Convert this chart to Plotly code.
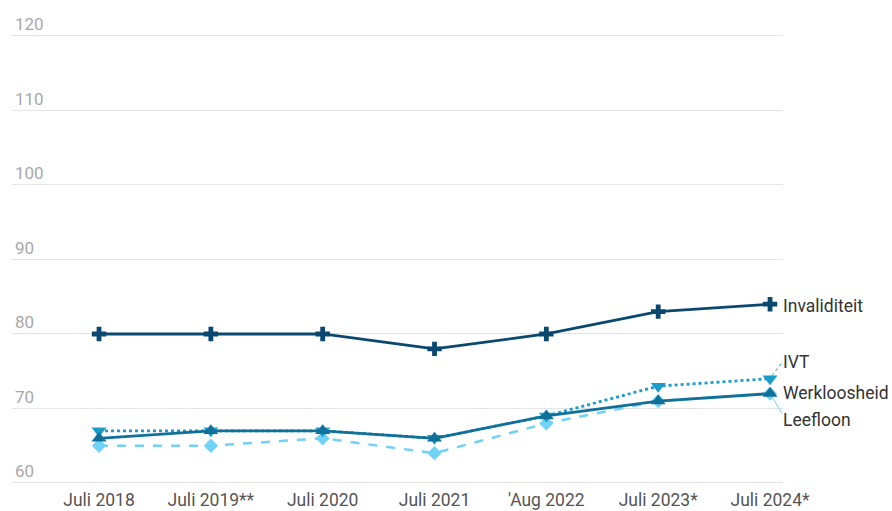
import plotly.graph_objects as go

categories = ["Juli 2018", "Juli 2019**", "Juli 2020", "Juli 2021", "'Aug 2022", "Juli 2023*", "Juli 2024*"]
invaliditeit = [80, 80, 80, 78, 80, 83, 84]
ivt = [67, 67, 67, 66, 69, 73, 74]
werkloosheid = [66, 67, 67, 66, 69, 71, 72]
leefloon = [65, 65, 66, 64, 68, 71, 72]
y_ticks = [60, 70, 80, 90, 100, 110, 120]

x = list(range(len(categories)))

C_INV = "#0b4870"
C_IVT = "#1c9cc9"
C_WERK = "#11709a"
C_LEEF = "#6fd2f6"

fig = go.Figure()
fig.add_trace(go.Scatter(x=x, y=leefloon, mode="lines+markers", name="Leefloon",
                         line=dict(color=C_LEEF, width=2.5, dash="dash"),
                         marker=dict(symbol="diamond", size=11, color=C_LEEF)))
fig.add_trace(go.Scatter(x=x, y=ivt, mode="lines+markers", name="IVT",
                         line=dict(color=C_IVT, width=2.8, dash="dot"),
                         marker=dict(symbol="triangle-down", size=13, color=C_IVT)))
fig.add_trace(go.Scatter(x=x, y=werkloosheid, mode="lines+markers", name="Werkloosheid",
                         line=dict(color=C_WERK, width=2.8),
                         marker=dict(symbol="triangle-up", size=13, color=C_WERK)))
fig.add_trace(go.Scatter(x=x, y=invaliditeit, mode="lines+markers", name="Invaliditeit",
                         line=dict(color=C_INV, width=2.8),
                         marker=dict(symbol="cross", size=12, color=C_INV)))

last = len(categories) - 1
labels = [("Invaliditeit", invaliditeit[-1], -2),
          ("IVT", ivt[-1], 17),
          ("Werkloosheid", werkloosheid[-1], 1),
          ("Leefloon", leefloon[-1], -26)]
for text, yv, ys in labels:
    fig.add_annotation(x=last, y=yv, xref="x", yref="y", text=text, showarrow=False,
                       xanchor="left", yanchor="middle", xshift=11, yshift=ys,
                       font=dict(family="Roboto", size=17.5, color="#333333"))

# connector lines for IVT and Leefloon labels
fig.add_shape(type="line", xref="x", yref="y", xsizemode="pixel", ysizemode="pixel",
              xanchor=last, yanchor=ivt[-1], x0=2, y0=3, x1=11, y1=15,
              line=dict(color=C_IVT, width=1, dash="dot"))
fig.add_shape(type="line", xref="x", yref="y", xsizemode="pixel", ysizemode="pixel",
              xanchor=last, yanchor=leefloon[-1], x0=2, y0=-3, x1=12, y1=-20,
              line=dict(color=C_LEEF, width=1))

fig.update_layout(
    width=892, height=511,
    margin=dict(l=12, r=109, t=14, b=24),
    paper_bgcolor="white", plot_bgcolor="white",
    showlegend=False,
    font=dict(family="Roboto", size=17, color="#555555"),
)
fig.update_xaxes(tickvals=x, ticktext=categories, range=[-0.778, 6.116],
                 showgrid=False, zeroline=False, showline=False, ticks="",
                 ticklabelstandoff=0, automargin=False,
                 tickfont=dict(family="Roboto", size=17.5, color="#555555"))
fig.update_yaxes(range=[59.46, 122.95], tickvals=y_ticks, showgrid=True, gridcolor="#e3e3e3",
                 gridwidth=1, zeroline=False, showline=False, ticks="",
                 ticklabelposition="inside top", automargin=False,
                 tickfont=dict(family="Roboto", size=17, color="#a8a8a8"))

fig.write_html("out.html", post_script="document.body.style.margin='0';",
               config={"displayModeBar": False})
